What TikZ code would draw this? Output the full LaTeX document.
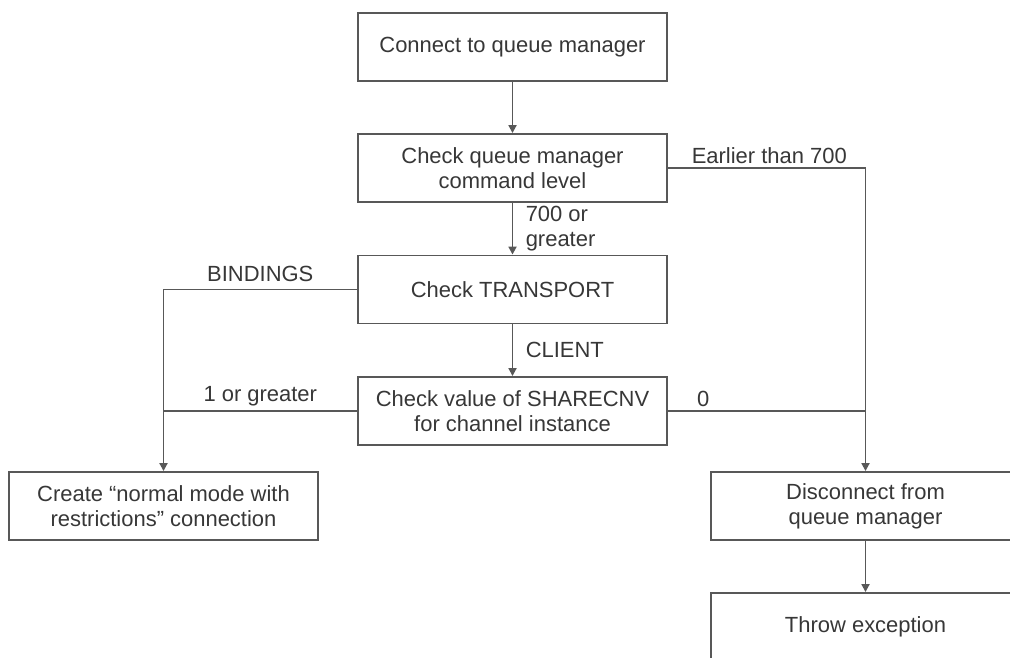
\documentclass[tikz,border=0pt]{standalone}
\usepackage{fontspec}
\setmainfont{Liberation Sans}
\usetikzlibrary{arrows.meta}
\definecolor{boxline}{RGB}{88,88,88}
\definecolor{boxtext}{RGB}{55,55,55}

\begin{document}
\begin{tikzpicture}[x=0.02cm,y=-0.02cm,
    every node/.style={font=\fontsize{12.5}{14.2}\selectfont, text=boxtext},
    flowbox/.style={draw=boxline, line width=1.1pt, minimum width=6.18cm,
        minimum height=1.36cm, align=center, inner sep=0pt},
    flowline/.style={draw=boxline, line width=1.1pt},
    flowarrow/.style={flowline, -{Triangle[length=4.5pt,width=4.5pt]}},
    edgelabel/.style={inner sep=2pt, align=left}]
        \useasboundingbox (0,0) rectangle (1010,658);
        \clip (0,0) rectangle (1010,658);
        \node[flowbox] (connect) at (512.5,47) {Connect to queue manager};
        \node[flowbox] (cmdlevel) at (512.5,168) {Check queue manager\\command level};
        \node[flowbox] (transport) at (512.5,289.5) {Check TRANSPORT};
        \node[flowbox] (sharecnv) at (512.5,411) {Check value of SHARECNV\\for channel instance};
        \node[flowbox] (normal) at (163.5,506) {Create “normal mode with\\restrictions” connection};
        \node[flowbox] (disconnect) at (865.5,506) {Disconnect from\\queue manager};
        \node[flowbox] (throw) at (865.5,627) {Throw exception};
        \draw[flowarrow] (connect) -- (cmdlevel);
        \draw[flowarrow] (cmdlevel) -- (transport)
            node (lblnew) [edgelabel, midway, right=5pt] {700 or\\greater};
        \draw[flowarrow] (transport) -- (sharecnv)
            node (lblclient) [edgelabel, midway, right=5pt] {CLIENT};
        \draw[flowarrow] (cmdlevel.east) -| (disconnect.north)
            node (lblold) [edgelabel, pos=0, anchor=south west, xshift=11pt] {Earlier than 700};
        \draw[flowline] (sharecnv.east) -- (sharecnv.east -| disconnect.north)
            node (lblzero) [edgelabel, pos=0, anchor=south west, xshift=14pt] {0};
        \draw[flowarrow] (transport.west) -| (normal.north)
            node (lblbind) [edgelabel, pos=0.25, above=2pt] {BINDINGS};
        \draw[flowline] (sharecnv.west) -- (sharecnv.west -| normal.north)
            node (lblmore) [edgelabel, midway, above] {1 or greater};
        \draw[flowarrow] (disconnect) -- (throw);
    \end{tikzpicture}
\end{document}
